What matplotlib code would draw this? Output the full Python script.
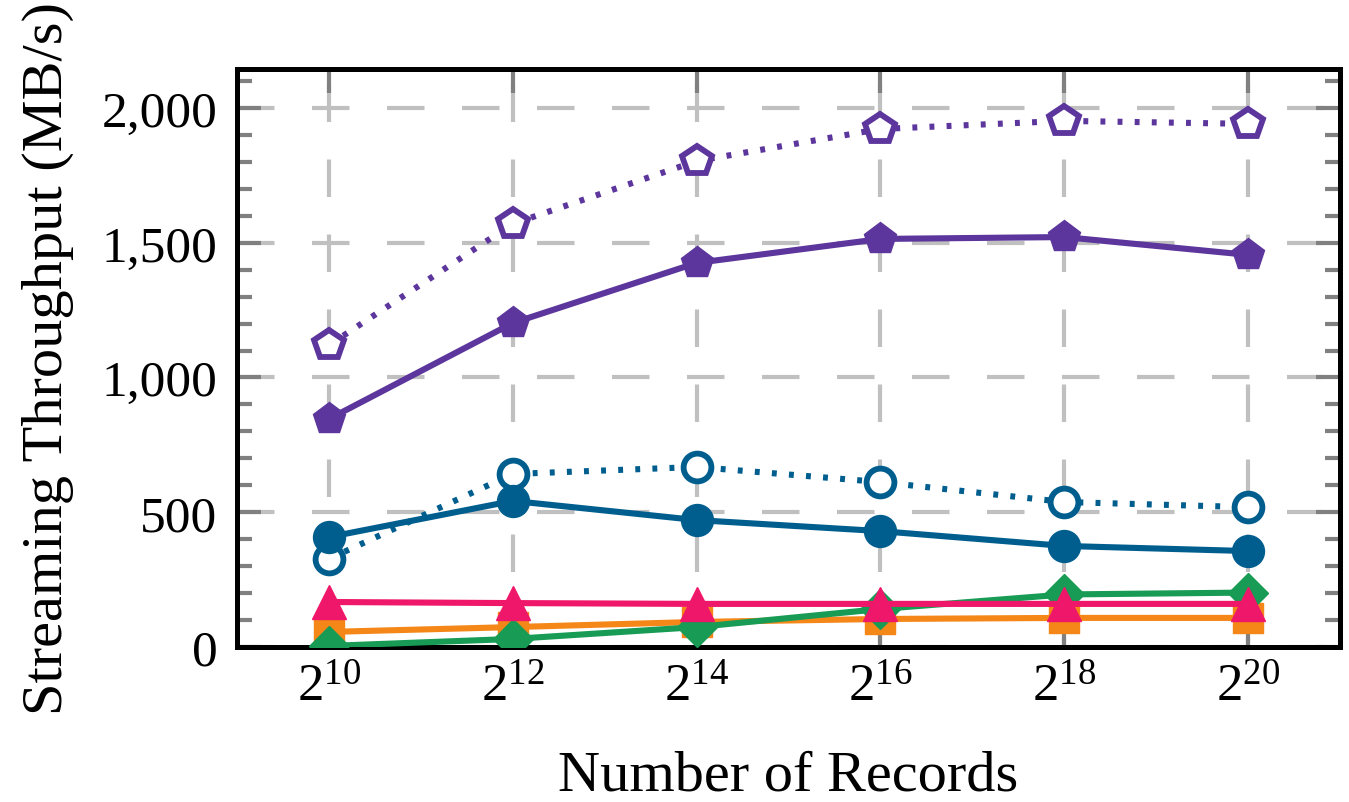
import matplotlib
matplotlib.use('Agg')
import matplotlib.pyplot as plt
from matplotlib.ticker import MultipleLocator, FixedLocator

plt.rcParams['font.family'] = ['Liberation Serif', 'DejaVu Serif']
plt.rcParams['mathtext.fontset'] = 'custom'
plt.rcParams['mathtext.rm'] = 'Liberation Serif'
plt.rcParams['mathtext.it'] = 'Liberation Serif:italic'

# Data
exps = [10, 12, 14, 16, 18, 20]
purple_dotted = [1120, 1570, 1803, 1922, 1952, 1941]
purple_solid = [846, 1202, 1425, 1514, 1521, 1455]
blue_dotted = [327, 642, 668, 612, 538, 519]
blue_solid = [408, 542, 471, 430, 375, 356]
orange = [56, 74, 93, 104, 108, 108]
green = [4, 30, 74, 141, 195, 202]
pink = [167, 163, 160, 160, 160, 160]

x = [2 ** e for e in exps]
xlabels = ['$2^{%d}$' % e for e in exps]

PURPLE = '#5c369c'
BLUE = '#005e8f'
PINK = '#ef1769'
ORANGE = '#f58718'
GREEN = '#179b55'

fig = plt.figure(figsize=(13.49, 8.03), dpi=100)
ax = fig.add_axes([0.1757, 0.193, 0.8176, 0.72])

lw = 4.4
ms = 23
dots = (0, (0.8, 2.0))

ax.plot(x, orange, color=ORANGE, lw=lw, marker='s', ms=ms - 1, zorder=3)
ax.plot(x, green, color=GREEN, lw=lw, marker='D', ms=ms - 3, zorder=4)
ax.plot(x, pink, color=PINK, lw=lw, marker='^', ms=ms + 1, zorder=5)
ax.plot(x, blue_dotted, color=BLUE, lw=lw, ls=dots, marker='o',
        ms=ms - 3, mfc='white', mec=BLUE, mew=4.2, zorder=6)
ax.plot(x, blue_solid, color=BLUE, lw=lw, marker='o', ms=ms, zorder=7)
ax.plot(x, purple_dotted, color=PURPLE, lw=lw, ls=dots, marker='p',
        ms=ms - 1, mfc='white', mec=PURPLE, mew=4.2, zorder=8)
ax.plot(x, purple_solid, color=PURPLE, lw=lw, marker='p', ms=ms + 1, zorder=9)

ax.set_xscale('log', base=2)
ax.set_xlim(2 ** 9, 2 ** 21)
ax.set_ylim(0, 2145)
ax.xaxis.set_major_locator(FixedLocator(x))
ax.xaxis.set_minor_locator(FixedLocator([]))
ax.set_xticks(x)
ax.set_xticklabels(xlabels)
ax.yaxis.set_major_locator(MultipleLocator(500))
ax.yaxis.set_minor_locator(MultipleLocator(100))
ax.set_yticklabels(['{:,}'.format(int(v)) for v in ax.get_yticks()])

ax.grid(True, which='major', color='#c0c0c0', lw=3, ls=(0, (9, 9)), zorder=1)
ax.set_axisbelow(True)

ax.tick_params(axis='both', which='both', direction='in', colors='#808080',
               top=True, right=True, labelcolor='black')
ax.tick_params(axis='y', which='major', length=17, width=3, labelsize=37, pad=14)
ax.tick_params(axis='y', which='minor', length=11, width=3)
ax.tick_params(axis='x', which='major', length=17, width=3, labelsize=38, pad=12)

for s in ax.spines.values():
    s.set_linewidth(3.6)
    s.set_color('black')

ax.set_xlabel('Number of Records', fontsize=42, labelpad=27)
ax.set_ylabel('Streaming Throughput (MB/s)', fontsize=42, labelpad=20)

fig.savefig('out.png', dpi=100)
